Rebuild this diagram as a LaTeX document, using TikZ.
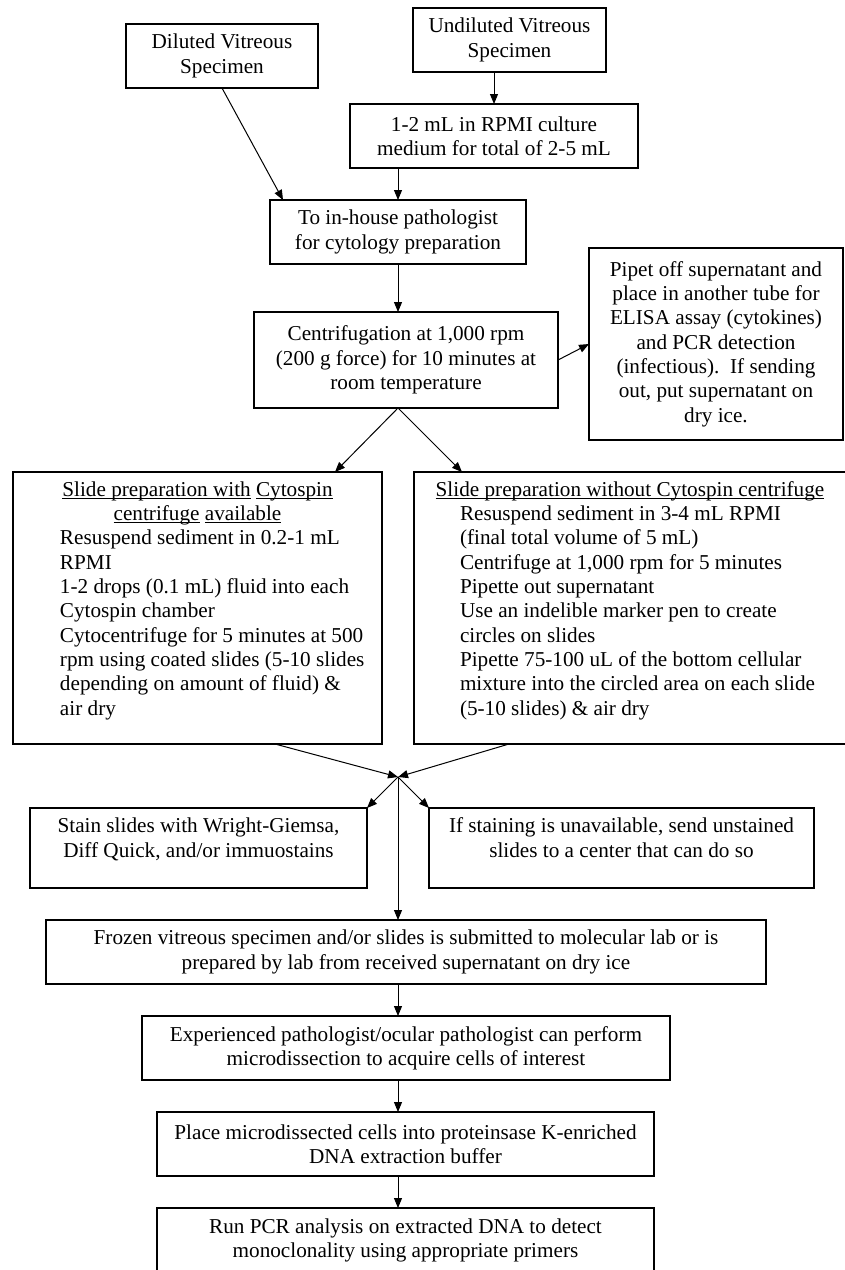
\documentclass[tikz,border=0pt]{standalone}
\usepackage{fontspec}
\setmainfont{Liberation Serif}
\usetikzlibrary{arrows.meta,calc}
\newcommand\uln[1]{\underline{\smash{#1}}}
\tikzset{
  box/.style={draw, line width=1.1pt, inner sep=0pt, outer sep=0pt, align=center,
    font=\fontsize{21.2}{24.3}\selectfont},
  arr/.style={line width=1pt, -{Triangle[length=10pt,width=8pt]}}
}
\begin{document}
\begin{tikzpicture}[x=1pt,y=-1pt]
\useasboundingbox[fill=white] (0,0) rectangle (845,1270);

\node[box, minimum width=192pt, minimum height=64pt] (dil) at (222,56) {Diluted Vitreous\\Specimen};
\node[box, minimum width=193pt, minimum height=64pt] (und) at (509.5,40) {Undiluted Vitreous\\Specimen};
\node[box, minimum width=288pt, minimum height=64pt] (ml) at (494,136) {1-2 mL in RPMI culture\\medium for total of 2-5 mL};
\node[box, minimum width=256pt, minimum height=64pt] (inh) at (398,232) {To in-house pathologist\\for cytology preparation};
\node[box, minimum width=304pt, minimum height=96pt] (cen) at (406,360) {Centrifugation at 1,000 rpm\\(200 g force) for 10 minutes at\\room temperature};
\node[box, minimum width=254pt, minimum height=192pt] (pip) at (716,344) {Pipet off supernatant and\\place in another tube for\\ELISA assay (cytokines)\\and PCR detection\\(infectious).\ \ If sending\\out, put supernatant on\\dry ice.};

\node[box, minimum width=369pt, minimum height=272pt] (slA) at (197.5,608) {\parbox{369pt}{\centering
  \uln{Slide preparation with} \uln{Cytospin}\\
  \uln{centrifuge} \uln{available}\par
  \raggedright\leftskip=47pt\rightskip=0pt plus 1fil
  Resuspend sediment in 0.2-1 mL\\
  RPMI\\
  1-2 drops (0.1 mL) fluid into each\\
  Cytospin chamber\\
  Cytocentrifuge for 5 minutes at 500\\
  \mbox{rpm using coated slides (5-10 slides}\\
  depending on amount of fluid) \&\\
  air dry\par}};
\node[box, minimum width=432pt, minimum height=272pt] (slB) at (630,608) {\parbox{432pt}{\centering
  \uln{Slide preparation without Cytospin centrifuge}\par
  \raggedright\leftskip=46pt\rightskip=0pt plus 1fil
  Resuspend sediment in 3-4 mL RPMI\\
  (final total volume of 5 mL)\\
  Centrifuge at 1,000 rpm for 5 minutes\\
  Pipette out supernatant\\
  Use an indelible marker pen to create\\
  circles on slides\\
  Pipette 75-100 uL of the bottom cellular\\
  \mbox{mixture into the circled area on each slide}\\
  (5-10 slides) \& air dry\par}};

\coordinate (conv) at (398,777);
\node[box, minimum width=337pt, minimum height=80pt] (stA) at (198.5,848) {\begin{tabular}{@{}c@{}}Stain slides with Wright-Giemsa,\\Diff Quick, and/or immuostains\\[16pt]\end{tabular}};
\node[box, minimum width=385pt, minimum height=80pt] (stB) at (621.5,848) {\begin{tabular}{@{}c@{}}If staining is unavailable, send unstained\\slides to a center that can do so\\[16pt]\end{tabular}};

\node[box, minimum width=720pt, minimum height=64pt] (fro) at (406,952) {Frozen vitreous specimen and/or slides is submitted to molecular lab or is\\prepared by lab from received supernatant on dry ice};
\node[box, minimum width=528pt, minimum height=64pt] (exq) at (406,1048) {Experienced pathologist/ocular pathologist can perform\\microdissection to acquire cells of interest};
\node[box, minimum width=497pt, minimum height=64pt] (pla) at (405.5,1144) {Place microdissected cells into proteinsase K-enriched\\DNA extraction buffer};
\node[box, minimum width=497pt, minimum height=65pt] (run) at (405.5,1240.5) {Run PCR analysis on extracted DNA to detect\\monoclonality using appropriate primers};

\draw[arr] (dil.south) -- ([xshift=13pt]inh.north west);
\draw[arr] (ml.north |- und.south) -- (ml.north);
\draw[arr] (inh.north |- ml.south) -- (inh.north);
\draw[arr] (inh.south) -- (inh.south |- cen.north);
\draw[arr] (cen.east) -- (pip.west);
\coordinate (split) at (inh.south |- cen.south);
\draw[arr] (split) -- ([xshift=-47pt]slA.north east);
\draw[arr] (split) -- ([xshift=48pt]slB.north west);
\draw[arr] ([xshift=-107pt]slA.south east) -- (conv);
\draw[arr] ([xshift=95pt]slB.south west) -- (conv);
\draw[arr] (conv) -- (stA.north east);
\draw[arr] (conv) -- (stB.north west);
\draw[arr] (conv) -- (conv |- fro.north);
\draw[arr] (conv |- fro.south) -- (conv |- exq.north);
\draw[arr] (conv |- exq.south) -- (conv |- pla.north);
\draw[arr] (conv |- pla.south) -- (conv |- run.north);
\end{tikzpicture}
\end{document}
